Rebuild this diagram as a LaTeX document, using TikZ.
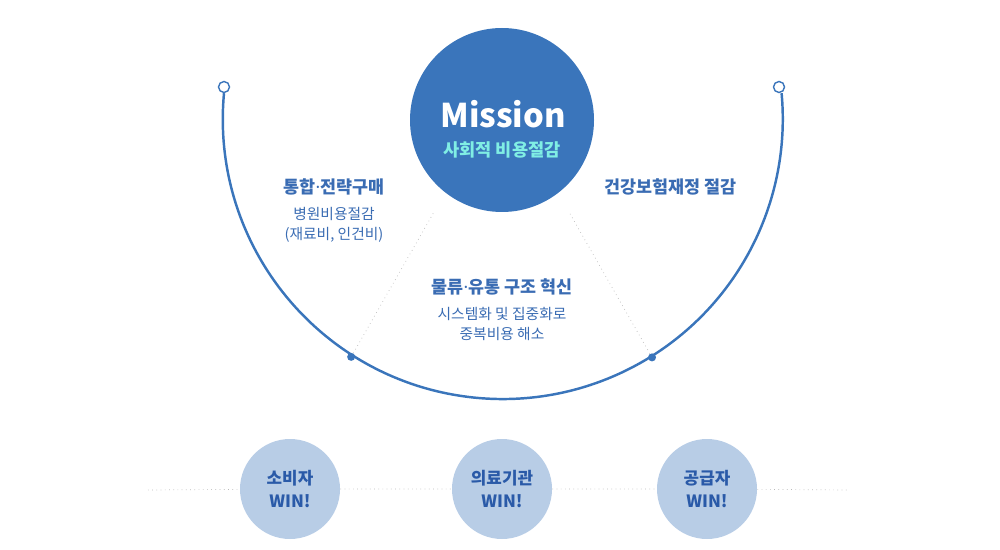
\documentclass[tikz,border=0pt]{standalone}
\usepackage{fontspec}
\setmainfont{Noto Sans CJK KR}
\newfontfamily\dotfont{Noto Sans}
\usetikzlibrary{positioning, calc}
\definecolor{accent}{RGB}{58, 117, 187}
\definecolor{txtblue}{RGB}{58, 108, 179}
\definecolor{aqua}{RGB}{128, 238, 228}
\definecolor{soft}{RGB}{184, 205, 230}
\definecolor{winblue}{RGB}{42, 90, 168}
\definecolor{dots}{RGB}{185, 185, 185}
\newcommand{\middot}{{\dotfont\bfseries ·}}

\begin{document}
\begin{tikzpicture}[x=0.02cm, y=-0.02cm,
      every node/.style={inner sep=0pt, align=center},
      mission/.style={circle, fill=accent, minimum size=184*0.02cm},
      head/.style={text=txtblue, font=\fontsize{9.9}{12}\selectfont\bfseries},
      body/.style={text=txtblue, font=\fontsize{8.4}{11.4}\selectfont},
      endpt/.style={circle, draw=accent, thick, fill=white, minimum size=11*0.02cm},
      joint/.style={circle, fill=accent, minimum size=8*0.02cm},
      win/.style={circle, fill=soft, minimum size=100*0.02cm, text=winblue,
                  font=\fontsize{9.6}{12.8}\selectfont\bfseries},
      guide/.style={draw=dots, dotted, thin},
      arc/.style={draw=accent, line width=1.4pt}
    ]
    \useasboundingbox (0,0) rectangle (1000,550);

    % big arc with its two open ends
    \coordinate (ctr) at (502,121);
    \node[endpt] (endL) at (224,87) {};
    \node[endpt] (endR) at (779,87) {};
    \draw[arc] (endL.south) arc[start angle=185.3, end angle=-5.3, radius=280];

    % points on the arc and guides up to the mission
    \node[joint] (dotL) at ($(ctr)+(122.6:280)$) {};
    \node[joint] (dotR) at ($(ctr)+(57.6:280)$) {};
    \coordinate (topL) at (434,212);
    \coordinate (topR) at (569,212);
    \draw[guide] (dotL) -- (topL);
    \draw[guide] (dotR) -- (topR);

    \node[mission] (mission) at (502,120) {};
    \node[text=white, font=\fontsize{18.6}{24}\selectfont\bfseries] (mtitle) at (503,114) {Mission};
    \node[text=aqua, font=\fontsize{10}{12}\selectfont\bfseries] (msub) at (502,150) {사회적 비용절감};

    % three goals
    \node[head] (g1) at (334,187) {통합\middot 전략구매};
    \node[body, below=11*0.02cm of g1] (g1b) {병원비용절감\\(재료비, 인건비)};
    \node[head] (g2) at (670,187) {건강보험재정 절감};
    \node[head] (g3) at (502,287) {물류\middot 유통 구조 혁신};
    \node[body, below=11*0.02cm of g3] (g3b) {시스템화 및 집중화로\\중복비용 해소};

    % win-win row
    \coordinate (lineL) at (148,490);
    \coordinate (lineR) at (850,490);
    \node[win] (w1) at (290,489) {소비자\\WIN!};
    \node[win] (w2) at (502,489) {의료기관\\WIN!};
    \node[win] (w3) at (707,489) {공급자\\WIN!};
    \draw[guide] (lineL) -- (w1) -- (w2) -- (w3) -- (lineR);
  \end{tikzpicture}
\end{document}
